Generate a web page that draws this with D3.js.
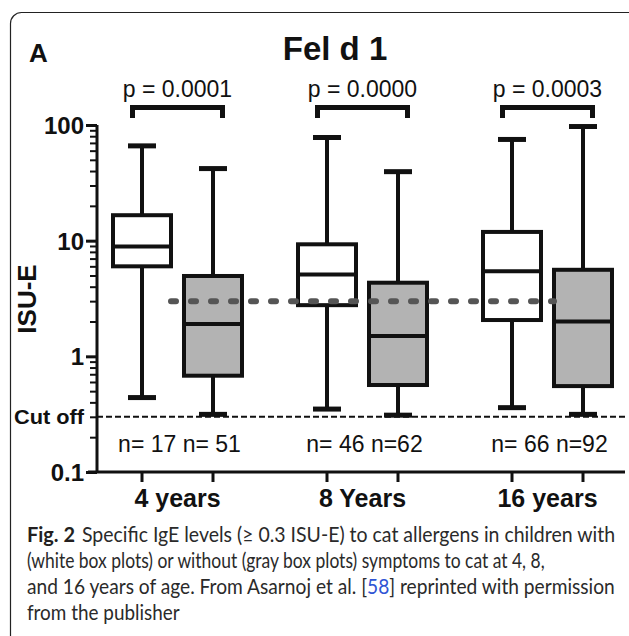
<!DOCTYPE html>
<html><head><meta charset="utf-8">
<script src="https://cdn.jsdelivr.net/npm/d3@7"></script>
<style>html,body{margin:0;padding:0;background:#fff;}svg{display:block;}</style>
</head><body>
<svg id="chart" width="629" height="636"></svg>
<script>
// ---- data ----
const groups = ["4 years", "8 Years", "16 years"];
const pLabels = ["p = 0.0001", "p = 0.0000", "p = 0.0003"];
const nLabels = ["n= 17 n= 51", "n= 46 n=62", "n= 66 n=92"];
const series = ["with", "without"];
// with symptoms (white boxes)
const withMin = [0.44, 0.35, 0.36];
const withQ1  = [6.0, 2.77, 2.06];
const withMed = [8.9, 5.1, 5.45];
const withQ3  = [16.6, 9.3, 11.9];
const withMax = [66, 78, 75];
// without symptoms (gray boxes)
const withoutMin = [0.315, 0.31, 0.315];
const withoutQ1  = [0.68, 0.565, 0.553];
const withoutMed = [1.9, 1.5, 2.0];
const withoutQ3  = [4.95, 4.33, 5.6];
const withoutMax = [42, 39.5, 97];
const refLevel = 3.0;
const cutOff = 0.3;
const yTickValues = [0.1, 1, 10, 100];
const yTickLabels = ["0.1", "1", "10", "100"];
const captionLines = [
  ["Specific IgE levels (\u2265 0.3 ISU-E) to cat allergens in children with"],
  ["(white box plots) or without (gray box plots) symptoms to cat at 4, 8,"],
  ["and 16 years of age. From Asarnoj et al. [", "58", "] reprinted with permission"],
  ["from the publisher"]
];

// ---- drawing ----
const svg = d3.select("#chart");
const F = "'Liberation Sans', Arial, Helvetica, sans-serif";

// frame
svg.append("rect").attr("x", 10.5).attr("y", 12.5).attr("width", 640).attr("height", 660)
  .attr("rx", 11).attr("fill", "none").attr("stroke", "#222").attr("stroke-width", 1.2);

const plotL = 97, plotR = 625, plotB = 472, plotT = 125;
const y = d3.scaleLog().domain([0.1, 100]).range([plotB, plotT]);
const xg = d3.scaleBand().domain(groups).range([85, 640]).padding(0);
const xs = d3.scalePoint().domain(series).range([-35.5, 35.5]);
const cx = (g, s) => xg(g) + xg.bandwidth() / 2 + xs(s);
const boxW = 58, capW = 28;

// minor ticks
const minor = [];
for (let d = 0.1; d < 100; d *= 10) for (let k = 2; k <= 9; k++) minor.push(+(d * k).toFixed(3));
const gMinor = svg.append("g").attr("transform", `translate(${plotL},0)`)
  .call(d3.axisLeft(y).tickValues(minor).tickSize(7).tickFormat(""));
gMinor.select(".domain").remove();
gMinor.selectAll("line").attr("stroke", "#111").attr("stroke-width", 2);

const gMajor = svg.append("g").attr("transform", `translate(${plotL},0)`)
  .call(d3.axisLeft(y).tickValues(yTickValues).tickSize(11).tickPadding(2)
    .tickFormat((d, i) => yTickLabels[i]));
gMajor.select(".domain").attr("stroke", "#111").attr("stroke-width", 3).attr("d", `M0,${plotT}V${plotB}`);
gMajor.selectAll("line").attr("stroke", "#111").attr("stroke-width", 3);
gMajor.selectAll("text").attr("font-family", F).attr("font-weight", "bold")
  .attr("font-size", 24).attr("fill", "#111").attr("dy", "0.36em");

// Cut off label
svg.append("text").attr("x", 84).attr("y", y(cutOff)).attr("dy", "0.36em")
  .attr("text-anchor", "end").attr("font-family", F).attr("font-weight", "bold")
  .attr("font-size", 20).attr("textLength", 70).attr("lengthAdjust", "spacingAndGlyphs")
  .attr("fill", "#111").text("Cut off");

// y-axis title
svg.append("text").attr("transform", `translate(36,${299}) rotate(-90)`)
  .attr("text-anchor", "middle").attr("font-family", F).attr("font-weight", "bold")
  .attr("font-size", 26).attr("fill", "#111").text("ISU-E");

// x axis line + ticks
svg.append("line").attr("x1", plotL - 9).attr("x2", plotR).attr("y1", plotB).attr("y2", plotB)
  .attr("stroke", "#111").attr("stroke-width", 3);
groups.forEach(g => series.forEach(s => {
  svg.append("line").attr("x1", cx(g, s)).attr("x2", cx(g, s)).attr("y1", plotB).attr("y2", plotB + 10)
    .attr("stroke", "#111").attr("stroke-width", 3);
}));
svg.selectAll(".xlab").data(groups).enter().append("text")
  .attr("x", g => xg(g) + xg.bandwidth() / 2).attr("y", 507)
  .attr("text-anchor", "middle").attr("font-family", F).attr("font-weight", "bold")
  .attr("font-size", 25).attr("fill", "#111").text(g => g);

// cut-off dashed line
svg.append("line").attr("x1", plotL).attr("x2", plotR).attr("y1", y(cutOff)).attr("y2", y(cutOff))
  .attr("stroke", "#111").attr("stroke-width", 2).attr("stroke-dasharray", "6,3");

// boxes
const stats = {
  with: {min: withMin, q1: withQ1, med: withMed, q3: withQ3, max: withMax, fill: "#ffffff"},
  without: {min: withoutMin, q1: withoutQ1, med: withoutMed, q3: withoutQ3, max: withoutMax, fill: "#b3b3b3"}
};
groups.forEach((g, i) => series.forEach(s => {
  const st = stats[s], c = cx(g, s);
  const mn = st.min[i], q1 = st.q1[i], md = st.med[i], q3 = st.q3[i], mx = st.max[i];
  const gg = svg.append("g").attr("stroke", "#111").attr("stroke-width", 4);
  gg.append("line").attr("x1", c).attr("x2", c).attr("y1", y(mx)).attr("y2", y(q3));
  gg.append("line").attr("x1", c).attr("x2", c).attr("y1", y(q1)).attr("y2", y(mn));
  gg.append("line").attr("x1", c - capW / 2).attr("x2", c + capW / 2).attr("y1", y(mx)).attr("y2", y(mx)).attr("stroke-width", 5);
  gg.append("line").attr("x1", c - capW / 2).attr("x2", c + capW / 2).attr("y1", y(mn)).attr("y2", y(mn)).attr("stroke-width", 5);
  gg.append("rect").attr("x", c - boxW / 2).attr("width", boxW)
    .attr("y", y(q3)).attr("height", y(q1) - y(q3)).attr("fill", st.fill);
  gg.append("line").attr("x1", c - boxW / 2).attr("x2", c + boxW / 2).attr("y1", y(md)).attr("y2", y(md));
}));

// reference dashed level
svg.append("line")
  .attr("x1", cx(groups[0], "with") + boxW / 2).attr("x2", cx(groups[2], "without") - boxW / 2)
  .attr("y1", y(refLevel)).attr("y2", y(refLevel))
  .attr("stroke", "#555").attr("stroke-width", 6).attr("stroke-linecap", "round")
  .attr("stroke-dasharray", "5,15");

// n labels
svg.selectAll(".nlab").data(nLabels).enter().append("text")
  .attr("x", (d, i) => xg(groups[i]) + xg.bandwidth() / 2 + 2).attr("y", 452)
  .attr("text-anchor", "middle").attr("font-family", F).attr("font-size", 23)
  .attr("fill", "#111").text(d => d);

// brackets + p values
groups.forEach((g, i) => {
  const m = xg(g) + xg.bandwidth() / 2;
  svg.append("path").attr("d", `M${m - 45},118V107.5H${m + 45}V118`)
    .attr("fill", "none").attr("stroke", "#111").attr("stroke-width", 5);
  svg.append("text").attr("x", m).attr("y", 97).attr("text-anchor", "middle")
    .attr("font-family", F).attr("font-size", 23).attr("fill", "#111").text(pLabels[i]);
});

// titles
svg.append("text").attr("x", 29).attr("y", 62).attr("font-family", F).attr("font-weight", "bold")
  .attr("font-size", 26).attr("fill", "#111").text("A");
svg.append("text").attr("x", 335).attr("y", 60).attr("text-anchor", "middle").attr("font-family", F)
  .attr("font-weight", "bold").attr("font-size", 33).attr("fill", "#111").text("Fel d 1");

// caption: natural text, then horizontally scaled to the target width
const CF = "Lato, 'Open Sans', sans-serif";
function fitText(sel, x, w) {
  const bw = sel.node().getBBox().width;
  sel.attr("x", 0).attr("transform", `translate(${x},0) scale(${w / bw},1)`);
}
const fig = svg.append("text").attr("y", 542).attr("font-family", CF).attr("font-weight", "bold")
  .attr("font-size", 21).attr("fill", "#231f20").text("Fig. 2");
fitText(fig, 27, 48);
const capX = [82, 27, 27, 27], capW2 = [533, 518, 588, 153], capY = [542, 568, 594, 620];
captionLines.forEach((parts, i) => {
  const t = svg.append("text").attr("y", capY[i]).attr("font-family", CF)
    .attr("font-size", 21).attr("fill", "#2a2a2a");
  parts.forEach((p, j) => t.append("tspan").attr("fill", (parts.length === 3 && j === 1) ? "#2f55d4" : "#2a2a2a").text(p));
  fitText(t, capX[i], capW2[i]);
});
</script>
</body></html>
